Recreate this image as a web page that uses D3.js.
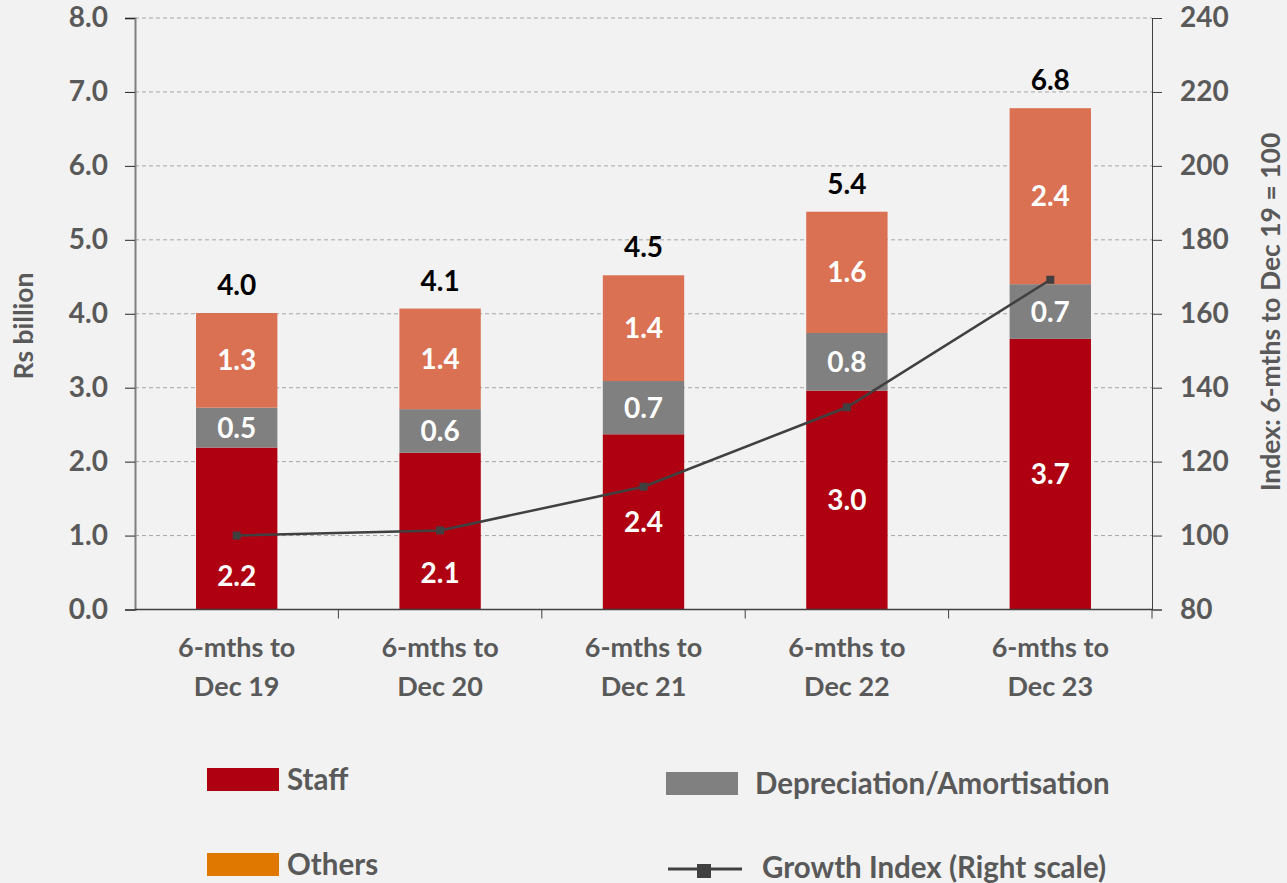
<!DOCTYPE html>
<html>
<head>
<meta charset="utf-8">
<script src="https://cdn.jsdelivr.net/npm/d3@7"></script>
<style>
  html, body { margin: 0; padding: 0; background: #F2F2F2; }
  svg { display: block; font-family: Lato, "Open Sans", sans-serif; font-weight: bold; }
</style>
</head>
<body>
<div id="chart"></div>
<script>
// Operating costs, 6-month periods
const categories = ["6-mths to|Dec 19", "6-mths to|Dec 20", "6-mths to|Dec 21", "6-mths to|Dec 22", "6-mths to|Dec 23"];
const staff      = [2.19, 2.12, 2.37, 2.96, 3.66];
const depAmort   = [0.54, 0.59, 0.72, 0.78, 0.74];
const others     = [1.28, 1.36, 1.43, 1.64, 2.38];
const growthIdx  = [100, 101.4, 113.2, 134.7, 169.2];
const leftTicks  = [0, 1, 2, 3, 4, 5, 6, 7, 8];
const rightTicks = [80, 100, 120, 140, 160, 180, 200, 220, 240];

const COLORS = { staff: "#AE0010", dep: "#808080", others: "#D97152", othersKey: "#E07800", line: "#404040", text: "#595959" };

/* ---------- layout ---------- */
const W = 1287, H = 883;
const plot = { left: 135, right: 1152, top: 18, bottom: 609.5 };

const svg = d3.select("#chart").append("svg").attr("width", W).attr("height", H);

const x = d3.scaleBand().domain(categories).range([plot.left, plot.right]).paddingInner(0.6).paddingOuter(0.3);
const xSlot = d3.scaleBand().domain(categories).range([plot.left, plot.right]);
const y  = d3.scaleLinear().domain([0, 8]).range([plot.bottom, plot.top]);
const yR = d3.scaleLinear().domain([80, 240]).range([plot.bottom, plot.top]);

// gridlines
svg.append("g").selectAll("line").data(leftTicks.slice(1)).join("line")
  .attr("x1", plot.left).attr("x2", plot.right)
  .attr("y1", d => y(d)).attr("y2", d => y(d))
  .attr("stroke", "#A6A6A6").attr("stroke-width", 1).attr("stroke-dasharray", "4,3");

// stacked bars
const rows = categories.map((c, i) => ({ cat: c, staff: staff[i], dep: depAmort[i], others: others[i] }));
const stack = d3.stack().keys(["staff", "dep", "others"])(rows);
const fill = { staff: COLORS.staff, dep: COLORS.dep, others: COLORS.others };

stack.forEach(layer => {
  svg.append("g").selectAll("rect").data(layer).join("rect")
    .attr("x", d => x(d.data.cat))
    .attr("width", x.bandwidth())
    .attr("y", d => y(d[1]))
    .attr("height", d => y(d[0]) - y(d[1]))
    .attr("fill", fill[layer.key]);
});

// axes
const axL = svg.append("g").attr("transform", `translate(${plot.left},0)`)
  .call(d3.axisLeft(y).tickValues(leftTicks).tickFormat(d3.format(".1f")).tickSize(10).tickPadding(17));
axL.select(".domain").attr("stroke", "#7F7F7F").attr("stroke-width", 2);
axL.selectAll(".tick line").attr("stroke", "#262626");

const axR = svg.append("g").attr("transform", `translate(${plot.right},0)`)
  .call(d3.axisRight(yR).tickValues(rightTicks).tickSize(10).tickPadding(18));
axR.select(".domain").attr("stroke", "#404040").attr("stroke-width", 1);
axR.selectAll(".tick line").attr("stroke", "#404040");

[axL, axR].forEach(a => a.selectAll(".tick text")
  .attr("fill", COLORS.text).style("font-size", "28px").style("font-family", "Lato").style("font-weight", "bold"));

// bottom axis with ticks at category boundaries
const axB = svg.append("g");
axB.append("line").attr("x1", plot.left).attr("x2", plot.right)
  .attr("y1", plot.bottom).attr("y2", plot.bottom).attr("stroke", "#404040").attr("stroke-width", 1.5);
axB.selectAll("line.bnd").data(categories.slice(1)).join("line").attr("class", "bnd")
  .attr("x1", d => xSlot(d)).attr("x2", d => xSlot(d))
  .attr("y1", plot.bottom).attr("y2", plot.bottom + 9).attr("stroke", "#404040");
axB.append("line").attr("x1", plot.right).attr("x2", plot.right)
  .attr("y1", plot.bottom).attr("y2", plot.bottom + 9).attr("stroke", "#404040");

const catLbl = axB.selectAll("text").data(categories).join("text")
  .attr("x", d => x(d) + x.bandwidth() / 2)
  .attr("text-anchor", "middle").attr("fill", COLORS.text).style("font-size", "27px");
catLbl.append("tspan").attr("x", d => x(d) + x.bandwidth() / 2).attr("y", 657).text(d => d.split("|")[0]);
catLbl.append("tspan").attr("x", d => x(d) + x.bandwidth() / 2).attr("y", 696).text(d => d.split("|")[1]);

// axis titles
svg.append("text").attr("transform", `translate(33,326) rotate(-90)`)
  .attr("text-anchor", "middle").attr("fill", COLORS.text).style("font-size", "26.5px").text("Rs billion");
svg.append("text").attr("transform", `translate(1280,312) rotate(-90)`)
  .attr("text-anchor", "middle").attr("fill", COLORS.text).style("font-size", "26.5px").text("Index: 6-mths to Dec 19 = 100");

// growth line
const cx = i => x(categories[i]) + x.bandwidth() / 2;
svg.append("path").datum(growthIdx)
  .attr("d", d3.line().x((d, i) => cx(i)).y(d => yR(d)))
  .attr("fill", "none").attr("stroke", COLORS.line).attr("stroke-width", 2.5);
svg.append("g").selectAll("rect").data(growthIdx).join("rect")
  .attr("x", (d, i) => cx(i) - 4).attr("y", d => yR(d) - 4)
  .attr("width", 8).attr("height", 8).attr("fill", COLORS.line);

// segment labels
const fmt = d3.format(".1f");
const labels = svg.append("g").attr("fill", "#fff").attr("text-anchor", "middle").style("font-size", "28px");
stack.forEach(layer => {
  layer.forEach((d, i) => {
    let cy = (y(d[0]) + y(d[1])) / 2;
    // move label down when the growth line runs through it
    if (Math.abs(yR(growthIdx[i]) - cy) < 25) cy = (yR(growthIdx[i]) + y(d[0])) / 2 + 3;
    labels.append("text").attr("x", cx(i)).attr("y", cy).attr("dy", "0.36em")
      .text(fmt(d[1] - d[0]));
  });
});

// totals
svg.append("g").selectAll("text").data(rows).join("text")
  .attr("x", (d, i) => cx(i))
  .attr("y", d => y(d.staff + d.dep + d.others) - 18)
  .attr("text-anchor", "middle").attr("fill", "#000").style("font-size", "28px")
  .text(d => fmt(d.staff + d.dep + d.others));

// legend
const lg = svg.append("g").style("font-size", "29.5px").attr("fill", COLORS.text);
const keys = [
  { name: "Staff", type: "box", color: COLORS.staff, x: 207, y: 768, tx: 287 },
  { name: "Depreciation/Amortisation", type: "box", color: COLORS.dep, x: 666, y: 772, tx: 755 },
  { name: "Others", type: "box", color: COLORS.othersKey, x: 207, y: 853, tx: 287 },
  { name: "Growth Index (Right scale)", type: "line", color: COLORS.line, x: 668, y: 856, tx: 762 }
];
keys.forEach(k => {
  if (k.type === "box") {
    lg.append("rect").attr("x", k.x).attr("y", k.y).attr("width", 72).attr("height", 23).attr("fill", k.color);
  } else {
    lg.append("line").attr("x1", k.x).attr("x2", k.x + 74).attr("y1", k.y + 13).attr("y2", k.y + 13)
      .attr("stroke", k.color).attr("stroke-width", 3);
    lg.append("rect").attr("x", k.x + 29).attr("y", k.y + 8).attr("width", 14).attr("height", 14).attr("fill", k.color);
  }
  lg.append("text").attr("x", k.tx).attr("y", k.y + 11).attr("dy", "0.36em").text(k.name);
});
</script>
</body>
</html>
